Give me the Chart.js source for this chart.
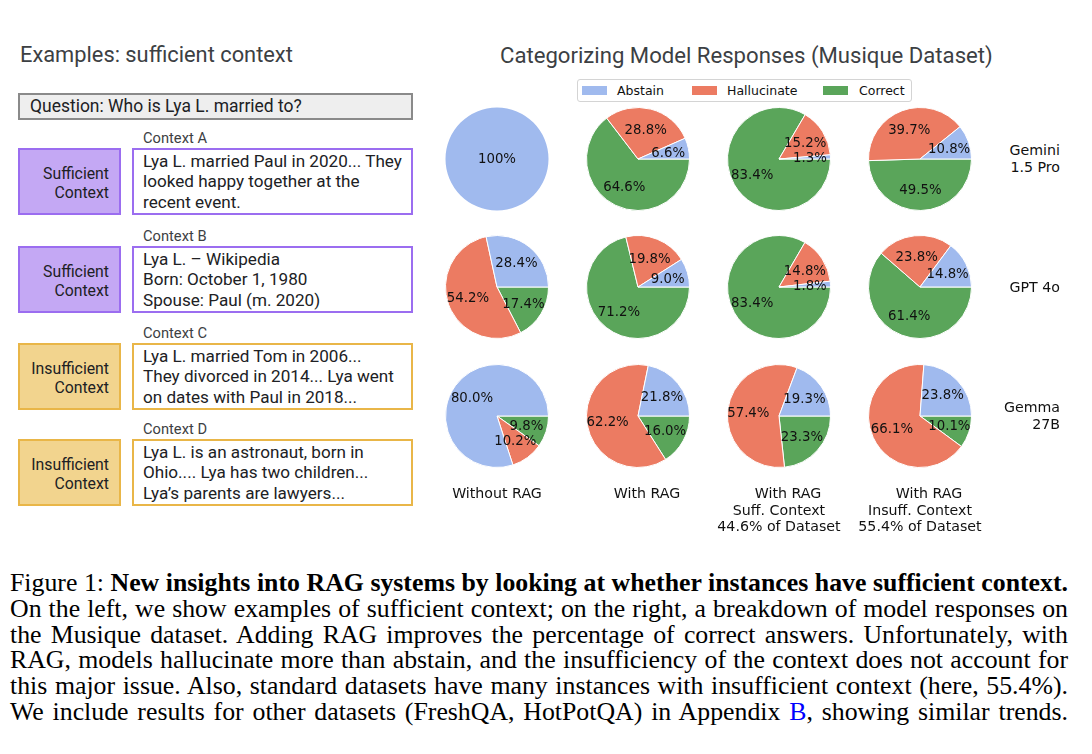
<!DOCTYPE html>
<html>
<head>
<meta charset="utf-8">
<script src="https://cdn.jsdelivr.net/npm/chart.js@4.4.0/dist/chart.umd.min.js"></script>
<style>
html, body { margin: 0; padding: 0; background: #fff; }
#page { position: relative; width: 1092px; height: 754px; overflow: hidden; }
.t { position: absolute; white-space: nowrap; line-height: 1; }
.box { position: absolute; box-sizing: border-box; border: 2px solid; }
.pie { position: absolute; width: 140px; height: 140px; }
#legend { position: absolute; left: 577px; top: 79px; width: 335px; height: 23px; box-sizing: border-box;
          border: 1px solid #d4d4d4; border-radius: 3px; background: #fff; }
.sw { position: absolute; width: 25px; height: 9px; }
#caption { position: absolute; left: 10px; top: 570px; width: 1058px; color: #000;
           font-family: "Liberation Serif", "Times New Roman", serif; }
#caption div { text-align: justify; text-align-last: justify; height: 25.8px; line-height: 25.8px; }
.measure { position: absolute; left: 0; top: 0; white-space: nowrap; visibility: hidden; font-size: 100px;
           font-family: "Liberation Serif", "Times New Roman", serif; }
</style>
</head>
<body>
<div id="page"></div>
<script>
// data
const categories = ['Abstain', 'Hallucinate', 'Correct'];
const colors = ['#a0baee', '#ec7b62', '#5aa55a'];
const settings = [['Without RAG'], ['With RAG'], ['With RAG', 'Suff. Context', '44.6% of Dataset'],
                  ['With RAG', 'Insuff. Context', '55.4% of Dataset']];
const models = [['Gemini', '1.5 Pro'], ['GPT 4o'], ['Gemma', '27B']];
// [abstain, hallucinate, correct] per setting
const gemini = [[100, 0, 0], [6.6, 28.8, 64.6], [1.3, 15.2, 83.4], [10.8, 39.7, 49.5]];
const gpt4o = [[28.4, 54.2, 17.4], [9.0, 19.8, 71.2], [1.8, 14.8, 83.4], [14.8, 23.8, 61.4]];
const gemma = [[80.0, 10.2, 9.8], [21.8, 62.2, 16.0], [19.3, 57.4, 23.3], [23.8, 66.1, 10.1]];

const examples = [
  { name: 'Context A', kind: 'Sufficient', lines: ['Lya L. married Paul in 2020... They', 'looked happy together at the', 'recent event.'] },
  { name: 'Context B', kind: 'Sufficient', lines: ['Lya L. \u2013 Wikipedia', 'Born: October 1, 1980', 'Spouse: Paul (m. 2020)'] },
  { name: 'Context C', kind: 'Insufficient', lines: ['Lya L. married Tom in 2006...', 'They divorced in 2014... Lya went', 'on dates with Paul in 2018...'] },
  { name: 'Context D', kind: 'Insufficient', lines: ['Lya L. is an astronaut, born in', 'Ohio.... Lya has two children...', 'Lya\u2019s parents are lawyers...'] }
];

const captionLines = [
  'Figure 1: <b>New insights into RAG systems by looking at whether instances have sufficient context.</b>',
  'On the left, we show examples of sufficient context; on the right, a breakdown of model responses on',
  'the Musique dataset. Adding RAG improves the percentage of correct answers. Unfortunately, with',
  'RAG, models hallucinate more than abstain, and the insufficiency of the context does not account for',
  'this major issue. Also, standard datasets have many instances with insufficient context (here, 55.4%).',
  'We include results for other datasets (FreshQA, HotPotQA) in Appendix <span style="color:#0000ff">B</span>, showing similar trends.'
];

const page = document.getElementById('page');
const GS = 'Roboto, "Open Sans", sans-serif';
const DV = '"DejaVu Sans", sans-serif';

function put(text, x, y, font, size, color, align) {
  const el = document.createElement('div');
  el.className = 't';
  el.textContent = text;
  el.style.fontFamily = font;
  el.style.fontSize = size + 'px';
  el.style.color = color;
  el.style.left = x + 'px';
  el.style.top = y + 'px';
  const dx = align === 'center' ? '-50%' : align === 'right' ? '-100%' : '0';
  el.style.transform = 'translate(' + dx + ',-50%)';
  page.appendChild(el);
  return el;
}

// font size that makes el exactly w px wide
function fitSize(el, w) {
  el.style.fontSize = '100px';
  const m = el.getBoundingClientRect().width;
  return 100 * w / m;
}

function rect(x, y, w, h, fill, border) {
  const b = document.createElement('div');
  b.className = 'box';
  Object.assign(b.style, { left: x + 'px', top: y + 'px', width: w + 'px', height: h + 'px', background: fill, borderColor: border });
  page.appendChild(b);
}

// ---- left panel
let el = put('Examples: sufficient context', 20, 55, GS, 20, '#3c4043', 'left');
el.style.fontSize = fitSize(el, 273) + 'px';

rect(18, 93, 395, 27, '#eeeeee', '#8a8a8a');
el = put('Question: Who is Lya L. married to?', 30, 106.5, GS, 16, '#202124', 'left');
const bodySize = fitSize(el, 272);
el.style.fontSize = bodySize + 'px';

const boxTop = [148, 246, 343, 439];
const probe = put('Context A', 143, 0, GS, 13, '#3c4043', 'left');
const smallSize = fitSize(probe, 64);
probe.remove();
const probe2 = put('Sufficient', 109, 0, GS, 15, '#202124', 'right');
const labelSize = fitSize(probe2, 66);
probe2.remove();
const probe3 = put(examples[0].lines[0], 143, 0, GS, 16, '#202124', 'left');
const lineSize = fitSize(probe3, 259);
probe3.remove();

examples.forEach((ex, i) => {
  const top = boxTop[i];
  const suff = ex.kind === 'Sufficient';
  const fill = suff ? '#c4a8f4' : '#f2d48e';
  const edge = suff ? '#9b6df0' : '#e9b648';
  put(ex.name, 143, top - 10, GS, smallSize, '#3c4043', 'left');
  rect(18, top, 103, 67, fill, edge);
  rect(132, top, 281, 67, '#ffffff', edge);
  put(ex.kind, 109, top + 26, GS, labelSize, '#202124', 'right');
  put('Context', 109, top + 45, GS, labelSize, '#202124', 'right');
  ex.lines.forEach((ln, k) => put(ln, 143, top + 13.5 + k * 20.8, GS, lineSize, '#202124', 'left'));
});

// ---- right panel
el = put('Categorizing Model Responses (Musique Dataset)', 500, 55, GS, 20, '#3c4043', 'left');
el.style.fontSize = fitSize(el, 493) + 'px';

const leg = document.createElement('div');
leg.id = 'legend';
page.appendChild(leg);
const swX = [582, 692, 823];
const txX = [617, 727, 859];
categories.forEach((c, i) => {
  const s = document.createElement('div');
  s.className = 'sw';
  Object.assign(s.style, { left: swX[i] + 'px', top: '86px', background: colors[i] });
  page.appendChild(s);
  put(c, txX[i], 90.5, DV, 12.5, '#111', 'left');
});

const pctLabels = {
  id: 'pctLabels',
  afterDatasetsDraw(chart) {
    const ctx = chart.ctx;
    const vals = chart.data.datasets[0].data;
    ctx.save();
    ctx.font = '13.3px "DejaVu Sans"';
    ctx.fillStyle = '#111';
    ctx.textAlign = 'center';
    ctx.textBaseline = 'middle';
    chart.getDatasetMeta(0).data.forEach((arc, i) => {
      const v = vals[i];
      if (!v) return;
      const p = arc.getProps(['x', 'y', 'startAngle', 'endAngle', 'outerRadius'], true);
      let x = p.x, y = p.y;
      if (v < 100) {
        const a = (p.startAngle + p.endAngle) / 2;
        x += Math.cos(a) * p.outerRadius * 0.6;
        y += Math.sin(a) * p.outerRadius * 0.6;
      }
      ctx.fillText(v === 100 ? '100%' : v.toFixed(1) + '%', x, y + 1);
    });
    ctx.restore();
  }
};

const colX = [497, 638, 779, 920];
const rowY = [159, 287, 415.5];
[gemini, gpt4o, gemma].forEach((rows, r) => {
  rows.forEach((v, c) => {
    const wrap = document.createElement('div');
    wrap.className = 'pie';
    wrap.style.left = (colX[c] - 70) + 'px';
    wrap.style.top = (rowY[r] - 70) + 'px';
    const cv = document.createElement('canvas');
    cv.width = 140;
    cv.height = 140;
    wrap.appendChild(cv);
    page.appendChild(wrap);
    // matplotlib draws counter-clockwise from 3 o'clock; Chart.js goes clockwise, so reverse
    new Chart(cv, {
      type: 'pie',
      data: {
        labels: categories.slice().reverse(),
        datasets: [{
          data: v.slice().reverse(),
          backgroundColor: colors.slice().reverse(),
          borderColor: '#fff',
          borderWidth: ctx => (ctx.raw > 0 && ctx.raw < 100) ? 1 : 0,
          radius: 51.5
        }]
      },
      options: {
        responsive: false,
        animation: false,
        rotation: 90,
        events: [],
        plugins: { legend: { display: false }, tooltip: { enabled: false } }
      },
      plugins: [pctLabels]
    });
  });
});

// row labels
models.forEach((m, r) => {
  const y0 = rowY[r] - (m.length - 1) * 8.5 - 0.5;
  m.forEach((s, k) => put(s, 1060, y0 + k * 17, DV, 14.2, '#111', 'right'));
});

// column labels
settings.forEach((s, c) => {
  s.forEach((ln, k) => {
    const x = colX[c] + (c > 0 && k === 0 ? 9 : 0);
    put(ln, x, 493 + k * 16.5, DV, 14.2, '#111', 'center');
  });
});

// ---- caption: biggest size at which every line still fits its width
const cap = document.createElement('div');
cap.id = 'caption';
let capSize = 40;
captionLines.forEach((html, i) => {
  const d = document.createElement('div');
  d.innerHTML = html;
  cap.appendChild(d);
  const mm = document.createElement('span');
  mm.className = 'measure';
  mm.innerHTML = html;
  document.body.appendChild(mm);
  const w = mm.getBoundingClientRect().width;
  mm.remove();
  capSize = Math.min(capSize, 100 * (i === 0 ? 1057 : 1053) / w);
});
cap.style.fontSize = capSize + 'px';
page.appendChild(cap);
</script>
</body>
</html>
